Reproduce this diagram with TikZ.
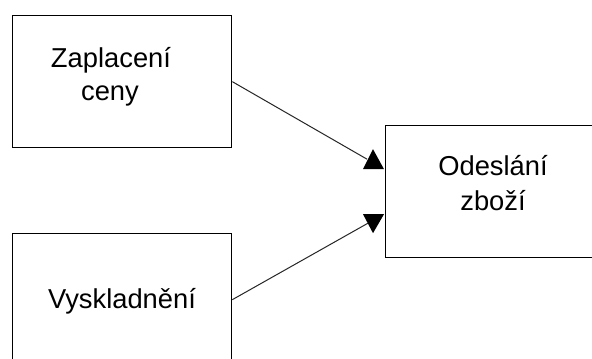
\documentclass[tikz,border=0pt]{standalone}
\usepackage{fontspec}
\setmainfont{Liberation Sans}
\begin{document}
\begin{tikzpicture}[x=0.75pt,y=-0.75pt,
  box/.style={draw=black, line width=1pt, minimum width=164.25pt, minimum height=99pt, inner sep=0pt, anchor=north west},
  lbl/.style={font=\fontsize{20.5}{24}\selectfont, inner sep=0pt, anchor=base},
  conn/.style={draw=black!85, line width=0.75pt},
  tip/.style={fill=black, draw=none}]
\clip (0,0) rectangle (592,358);
\fill[white] (0,0) rectangle (592,358);
\node[box] (zap) at (12,15) {};
\node[box] (ode) at (385,125) {};
\node[box] (vys) at (12,233) {};
\node[lbl] (zapa) at (111,67) {Zaplacení};
\node[lbl] (zapb) at (110,100) {ceny};
\node[lbl] (odea) at (493,175) {Odeslání};
\node[lbl] (odeb) at (493,210) {zboží};
\node[lbl] (vysa) at (122,308) {Vyskladnění};
\coordinate (e1) at ([shift={(-18,-32.5)}]ode.west);
\coordinate (e2) at ([shift={(-17,31.5)}]ode.west);
\draw[conn] (zap.east) -- (e1);
\draw[conn] (vys.east) -- (e2);
\fill[tip] ([shift={(-12,-42.5)}]ode.west) -- ([shift={(-22,-22.5)}]ode.west) -- ([shift={(-1,-22.5)}]ode.west) -- cycle;
\fill[tip] ([shift={(-12,41.5)}]ode.west) -- ([shift={(-22,22.5)}]ode.west) -- ([shift={(-1,22.5)}]ode.west) -- cycle;
\end{tikzpicture}
\end{document}
